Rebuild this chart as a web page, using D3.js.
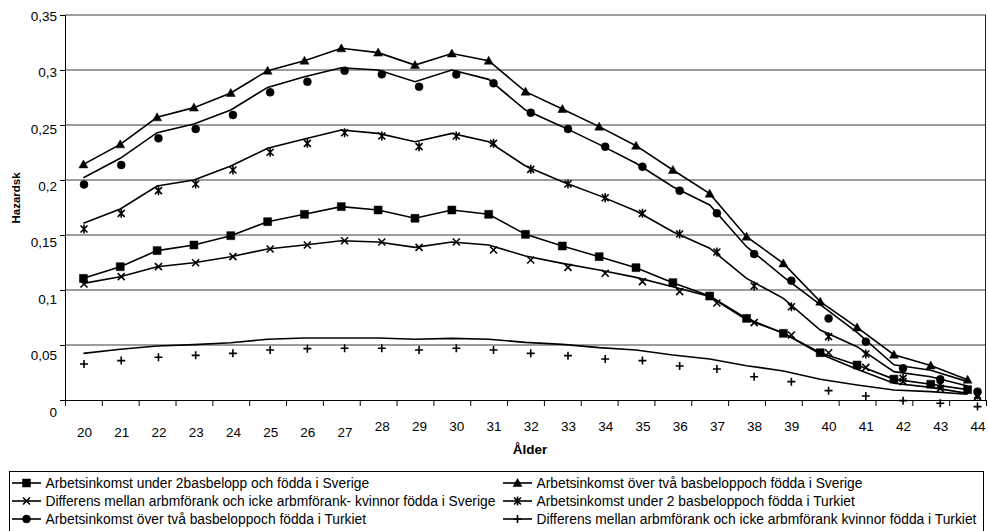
<!DOCTYPE html>
<html>
<head>
<meta charset="utf-8">
<script src="https://cdn.jsdelivr.net/npm/d3@7"></script>
<style>
  body { margin: 0; background: #fff; }
  svg { display: block; font-family: 'Liberation Sans', Arial, sans-serif; }
</style>
</head>
<body>
<div class="chart-container"></div>
<script>
/*** DATA ***/
const ages = d3.range(20, 45);
const yTicks = [0, 0.05, 0.1, 0.15, 0.2, 0.25, 0.3, 0.35];

// Arbetsinkomst under 2 basbelopp, födda i Sverige (square)
const underSverige = [0.1106, 0.1212, 0.1358, 0.1409, 0.1494, 0.1621, 0.1688, 0.1758, 0.1727, 0.1652, 0.1727, 0.1688, 0.1506,
  0.1400, 0.1303, 0.1203, 0.1067, 0.0945, 0.0742, 0.0606, 0.0430, 0.0318, 0.0190, 0.0143, 0.0094];
// Arbetsinkomst över två basbelopp, födda i Sverige (triangle)
const overSverige = [0.2142, 0.2324, 0.2570, 0.2658, 0.2791, 0.2994, 0.3085, 0.3197, 0.3158, 0.3045, 0.3150, 0.3085, 0.2803,
  0.2645, 0.2485, 0.2312, 0.2091, 0.1876, 0.1485, 0.1242, 0.0894, 0.0660, 0.0412, 0.0313, 0.0185];
// Differens, Sverige (x)
const diffSverige = [0.1060, 0.1121, 0.1212, 0.1248, 0.1303, 0.1373, 0.1409, 0.1448, 0.1436, 0.1388, 0.1436, 0.1409, 0.1309,
  0.1242, 0.1182, 0.1115, 0.1030, 0.0940, 0.0730, 0.0610, 0.0418, 0.0279, 0.0152, 0.0115, 0.0060];
const diffSverigeMarks = [0.1055, 0.1121, 0.1212, 0.1248, 0.1303, 0.1373, 0.1409, 0.1448, 0.1436, 0.1388, 0.1436, 0.1364, 0.1273,
  0.1206, 0.1152, 0.1076, 0.0985, 0.0882, 0.0703, 0.0591, 0.0430, 0.0297, 0.0167, 0.0106, 0.0030];
// Arbetsinkomst under 2 basbelopp, födda i Turkiet (asterisk)
const underTurkiet = [0.1606, 0.1736, 0.1945, 0.2000, 0.2127, 0.2288, 0.2373, 0.2455, 0.2424, 0.2348, 0.2424, 0.2348, 0.2127,
  0.1985, 0.1858, 0.1718, 0.1530, 0.1380, 0.1106, 0.0924, 0.0636, 0.0485, 0.0258, 0.0212, 0.0127];
const underTurkietMarks = [0.1555, 0.1697, 0.1903, 0.1964, 0.2091, 0.2252, 0.2333, 0.2430, 0.2400, 0.2303, 0.2400, 0.2333, 0.2097,
  0.1964, 0.1839, 0.1697, 0.1509, 0.1345, 0.1036, 0.0848, 0.0576, 0.0418, 0.0197, 0.0136, 0.0045];
// Arbetsinkomst över två basbelopp, födda i Turkiet (circle)
const overTurkiet = [0.2021, 0.2197, 0.2430, 0.2509, 0.2636, 0.2842, 0.2939, 0.3021, 0.3000, 0.2894, 0.3000, 0.2915, 0.2636,
  0.2485, 0.2324, 0.2152, 0.1939, 0.1773, 0.1394, 0.1120, 0.0868, 0.0615, 0.0320, 0.0270, 0.0167];
const overTurkietMarks = [0.1960, 0.2136, 0.2379, 0.2464, 0.2591, 0.2797, 0.2894, 0.2994, 0.2961, 0.2848, 0.2960, 0.2879, 0.2612,
  0.2464, 0.2303, 0.2121, 0.1903, 0.1697, 0.1327, 0.1085, 0.0742, 0.0530, 0.0288, 0.0188, 0.0076];
// Differens, Turkiet (plus)
const diffTurkiet = [0.0424, 0.0461, 0.0491, 0.0503, 0.0521, 0.0552, 0.0564, 0.0564, 0.0564, 0.0552, 0.0560, 0.0552, 0.0524,
  0.0506, 0.0476, 0.0455, 0.0409, 0.0373, 0.0312, 0.0264, 0.0188, 0.0136, 0.0091, 0.0076, 0.0052];
const diffTurkietMarks = [0.0327, 0.0358, 0.0388, 0.0406, 0.0424, 0.0455, 0.0467, 0.0470, 0.0470, 0.0455, 0.0470, 0.0455, 0.0424,
  0.0403, 0.0373, 0.0358, 0.0309, 0.0282, 0.0212, 0.0167, 0.0085, 0.0036, -0.0006, -0.0030, -0.0060];

const legendLabels = [
  'Arbetsinkomst under 2basbelopp och födda i Sverige',
  'Arbetsinkomst över två basbeloppoch födda i Sverige',
  'Differens mellan arbmförank och icke arbmförank- kvinnor födda i Sverige',
  'Arbetsinkomst under 2 basbeloppoch födda i Turkiet',
  'Arbetsinkomst över två basbeloppoch födda i Turkiet',
  'Differens mellan arbmförank och icke arbmförank kvinnor födda i Turkiet'
];

/*** MARKER SHAPES ***/
const markerPaths = {
  square: 'M-4,-4H4V4H-4Z',
  triangle: 'M0,-4.5L4.5,3.5H-4.5Z',
  circle: 'M4,0A4,4 0 1,1 -4,0A4,4 0 1,1 4,0Z',
  times: 'M-3.5,-3.5L3.5,3.5M-3.5,3.5L3.5,-3.5',
  asterisk: 'M-3.5,-3.5L3.5,3.5M-3.5,3.5L3.5,-3.5M0,-4.5V4.5',
  plus: 'M-4,0H4M0,-4V4'
};
const filled = { square: true, triangle: true, circle: true };

// series in legend order; markers of some series sit on their own (drifted) positions
const series = [
  { name: legendLabels[0], line: underSverige, marks: underSverige, shape: 'square', drift: false },
  { name: legendLabels[1], line: overSverige, marks: overSverige, shape: 'triangle', drift: false },
  { name: legendLabels[2], line: diffSverige, marks: diffSverigeMarks, shape: 'times', drift: true },
  { name: legendLabels[3], line: underTurkiet, marks: underTurkietMarks, shape: 'asterisk', drift: true },
  { name: legendLabels[4], line: overTurkiet, marks: overTurkietMarks, shape: 'circle', drift: true },
  { name: legendLabels[5], line: diffTurkiet, marks: diffTurkietMarks, shape: 'plus', drift: true }
];

/*** DRAW CHART ***/
function drawChart() {
  const width = 988, height = 531;
  const plot = { left: 65, right: 986, top: 15, bottom: 400 };

  const svg = d3.select('.chart-container')
    .append('svg')
    .attr('width', width)
    .attr('height', height);

  // scales
  const xBand = d3.scaleBand().domain(ages).range([plot.left, plot.right]);
  const xEdge = d3.scaleLinear().domain([0, ages.length]).range([plot.left, plot.right]);
  const xMark = d3.scalePoint().domain(ages).range([84, 977.5]);
  const y = d3.scaleLinear().domain([0, 0.35]).range([plot.bottom, plot.top]);
  const yLabel = d3.scaleLinear().domain([0, 0.35]).range([412, 16]);
  const xc = a => xBand(a) + xBand.bandwidth() / 2;

  // gridlines
  svg.append('g')
    .selectAll('line')
    .data(yTicks.filter(d => d > 0))
    .join('line')
    .attr('x1', plot.left)
    .attr('x2', plot.right)
    .attr('y1', d => y(d))
    .attr('y2', d => y(d))
    .style('stroke', '#3a3a3a')
    .style('stroke-width', 1);

  // right border
  svg.append('line')
    .attr('x1', plot.right - 0.5).attr('x2', plot.right - 0.5)
    .attr('y1', plot.top).attr('y2', plot.bottom)
    .style('stroke', '#222');

  // y axis (ticks) + labels
  svg.append('g')
    .attr('transform', `translate(${plot.left}, 0)`)
    .call(d3.axisLeft(y).tickValues(yTicks).tickSize(5).tickFormat(''))
    .call(g => g.selectAll('path, line').style('stroke', '#000'));

  svg.append('g')
    .attr('transform', `translate(${plot.left - 8}, 0)`)
    .call(d3.axisLeft(yLabel).tickValues(yTicks).tickSize(0).tickPadding(0)
      .tickFormat(d => String(d).replace('.', ',')))
    .call(g => g.select('.domain').remove())
    .call(g => g.selectAll('text')
      .style('font-size', '13.5px')
      .style('font-family', "'Liberation Sans', Arial, sans-serif")
      .style('fill', '#000'));

  // x axis (ticks at category edges)
  svg.append('g')
    .attr('transform', `translate(0, ${plot.bottom})`)
    .call(d3.axisBottom(xEdge).tickValues(d3.range(ages.length + 1)).tickSize(6).tickFormat(''))
    .call(g => g.selectAll('path, line').style('stroke', '#000'));

  svg.append('g')
    .attr('transform', `translate(0, ${plot.bottom})`)
    .call(d3.axisBottom(xMark).tickSize(0).tickPadding(0))
    .call(g => g.select('.domain').remove())
    .call(g => g.selectAll('text')
      .attr('y', d => d < 28 ? 33 : 27)
      .attr('dy', '0.32em')
      .style('font-size', '13.5px')
      .style('font-family', "'Liberation Sans', Arial, sans-serif")
      .style('fill', '#000'));

  // axis titles
  svg.append('text')
    .attr('x', 530)
    .attr('y', 454)
    .attr('text-anchor', 'middle')
    .style('font-size', '13.5px')
    .style('font-weight', 'bold')
    .text('Ålder');

  svg.append('text')
    .attr('transform', 'translate(20, 198) rotate(-90)')
    .attr('text-anchor', 'middle')
    .style('font-size', '11.5px')
    .style('font-weight', 'bold')
    .text('Hazardsk');

  // lines
  const line = d3.line()
    .x((d, i) => xc(ages[i]))
    .y(d => y(d));

  svg.append('g')
    .selectAll('path')
    .data(series)
    .join('path')
    .attr('d', d => line(d.line))
    .style('fill', 'none')
    .style('stroke', '#000')
    .style('stroke-width', 1.6);

  // markers
  series.forEach(s => {
    const xm = s.drift ? (a => xMark(a)) : xc;
    svg.append('g')
      .selectAll('path')
      .data(s.marks)
      .join('path')
      .attr('transform', (d, i) => `translate(${xm(ages[i])}, ${y(d)})`)
      .attr('d', markerPaths[s.shape])
      .style('fill', filled[s.shape] ? '#000' : 'none')
      .style('stroke', '#000')
      .style('stroke-width', filled[s.shape] ? 0.5 : 1.6);
  });

  // legend
  const legend = svg.append('g');
  legend.append('rect')
    .attr('x', 9.5)
    .attr('y', 471.5)
    .attr('width', 974)
    .attr('height', 80)
    .style('fill', '#fff')
    .style('stroke', '#000');

  const cols = [12, 503];
  const rows = [483, 501, 519];
  const item = legend.selectAll('.item')
    .data(series)
    .join('g')
    .attr('class', 'item')
    .attr('transform', (d, i) => `translate(${cols[i % 2]}, ${rows[Math.floor(i / 2)]})`);

  item.append('line')
    .attr('x1', 0).attr('x2', 29)
    .style('stroke', '#000')
    .style('stroke-width', 1.6);

  item.append('path')
    .attr('transform', 'translate(14.5, 0)')
    .attr('d', d => markerPaths[d.shape])
    .style('fill', d => filled[d.shape] ? '#000' : 'none')
    .style('stroke', '#000')
    .style('stroke-width', d => filled[d.shape] ? 0.5 : 1.6);

  item.append('text')
    .attr('x', 33.5)
    .attr('dy', '0.35em')
    .style('font-size', '13.8px')
    .text(d => d.name);
}

drawChart();
</script>
</body>
</html>
